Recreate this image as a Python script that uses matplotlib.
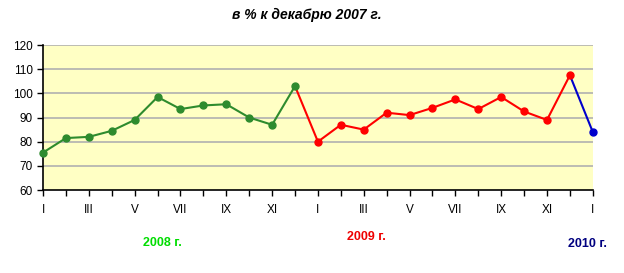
import numpy as np
import matplotlib.pyplot as plt

plt.rcParams['font.family'] = ['Liberation Sans', 'DejaVu Sans']

months = ['I', '', 'III', '', 'V', '', 'VII', '', 'IX', '', 'XI', '',
          'I', '', 'III', '', 'V', '', 'VII', '', 'IX', '', 'XI', '', 'I']
v2008 = [75.5, 81.5, 82.0, 84.5, 89.0, 98.5, 93.5, 95.0, 95.5, 90.0, 87.0, 103.0]
v2009 = [80.0, 87.0, 85.0, 92.0, 91.0, 94.0, 97.5, 93.5, 98.5, 92.5, 89.0, 107.5]
v2010 = [84.0]

values = v2008 + v2009 + v2010
x = np.arange(len(values))

fig = plt.figure(figsize=(6.24, 2.73), dpi=100)
ax = fig.add_axes([0.069, 0.304, 0.881, 0.531])
ax.set_facecolor('#ffffc4')

for yv in range(70, 121, 10):
    ax.axhline(yv, color='#b0b0b0', lw=1.2, zorder=1)

green, red, blue = '#2e8b2e', '#ff0000', '#0000cc'

ax.plot(x[:12], values[:12], color=green, lw=1.5, marker='o', ms=5, zorder=3, clip_on=False)
ax.plot(x[11:24], values[11:24], color=red, lw=1.5, zorder=2)
ax.plot(x[12:24], values[12:24], color=red, lw=0, marker='o', ms=5, zorder=3)
ax.plot(x[23:25], values[23:25], color=blue, lw=1.5, zorder=2, clip_on=False)
ax.plot(x[24:], values[24:], color=blue, lw=0, marker='o', ms=5, zorder=3, clip_on=False)

ax.set_xlim(0, 24)
ax.set_ylim(60, 120)
ax.set_yticks(range(60, 121, 10))
ax.set_xticks(x)
ax.set_xticklabels(months)
ax.tick_params(axis='both', direction='out', length=4, width=1, labelsize=8.5,
               colors='black')
ax.tick_params(axis='x', pad=6)
for s in ['top', 'right']:
    ax.spines[s].set_visible(False)
for s in ['left', 'bottom']:
    ax.spines[s].set_linewidth(1.2)

fig.text(0.492, 0.945, 'в % к декабрю 2007 г.', ha='center', va='center',
         fontsize=10, fontweight='bold', fontstyle='italic')
fig.text(0.26, 0.11, '2008 г.', color='#00dd00', fontsize=9, fontweight='bold',
         ha='center', va='center')
fig.text(0.587, 0.132, '2009 г.', color='#ee0000', fontsize=9, fontweight='bold',
         ha='center', va='center')
fig.text(0.942, 0.106, '2010 г.', color='#000080', fontsize=9, fontweight='bold',
         ha='center', va='center')

fig.savefig('out.png', dpi=100)
